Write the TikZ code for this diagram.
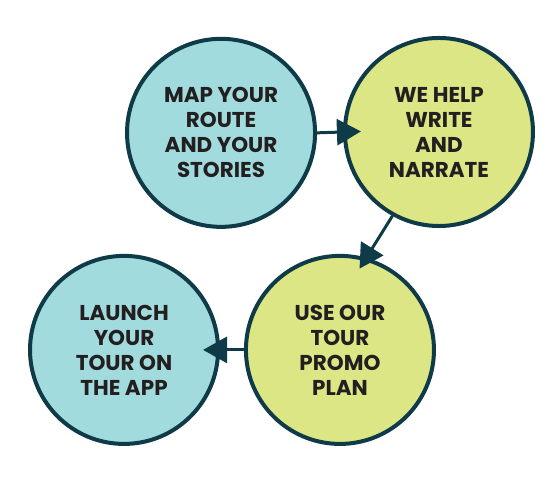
\documentclass[tikz,border=0pt]{standalone}
\usepackage{fontspec}
\setmainfont{Poppins}
\usepackage{tikz}
\usetikzlibrary{positioning,arrows.meta,calc}
\usepackage{xcolor}
\definecolor{inkblue}{HTML}{0F3A48}
\definecolor{aqua}{HTML}{A2DBDD}
\definecolor{lime}{HTML}{DCE685}
\definecolor{textdark}{HTML}{231F20}

\begin{document}
\begin{tikzpicture}[
    stage/.style={circle, draw=inkblue, line width=4pt, minimum size=6.61cm, inner sep=0pt,
        align=center, text=textdark, font=\fontsize{21.5}{25}\selectfont\bfseries},
    flow/.style={-{Triangle[length=24pt, width=26pt]}, draw=inkblue, fill=inkblue, line width=3pt}
]
    \useasboundingbox (0, 0) rectangle (19.65, 16.87);

    % Top row
    \node[stage, fill=aqua] (mapstories) at (7.77, 12.20) {MAP YOUR\\ROUTE\\AND YOUR\\STORIES};
    \node[stage, fill=lime] (writenarrate) at (15.43, 12.23) {WE HELP\\WRITE\\AND\\NARRATE};

    % Bottom row
    \node[stage, fill=lime] (promoplan) at (11.95, 4.57) {USE OUR\\TOUR\\PROMO\\PLAN};
    \node[stage, fill=aqua] (launchapp) at (4.36, 4.57) {LAUNCH\\YOUR\\TOUR ON\\THE APP};

    % Frecce tra le fasi
    \draw[flow, shorten >=-18pt] (mapstories.east) -- (writenarrate.west);
    \draw[flow, shorten >=-13pt] (writenarrate.241) -- (promoplan.74);
    \draw[flow, shorten >=-17pt] (promoplan.west) -- (launchapp.east);
\end{tikzpicture}
\end{document}
